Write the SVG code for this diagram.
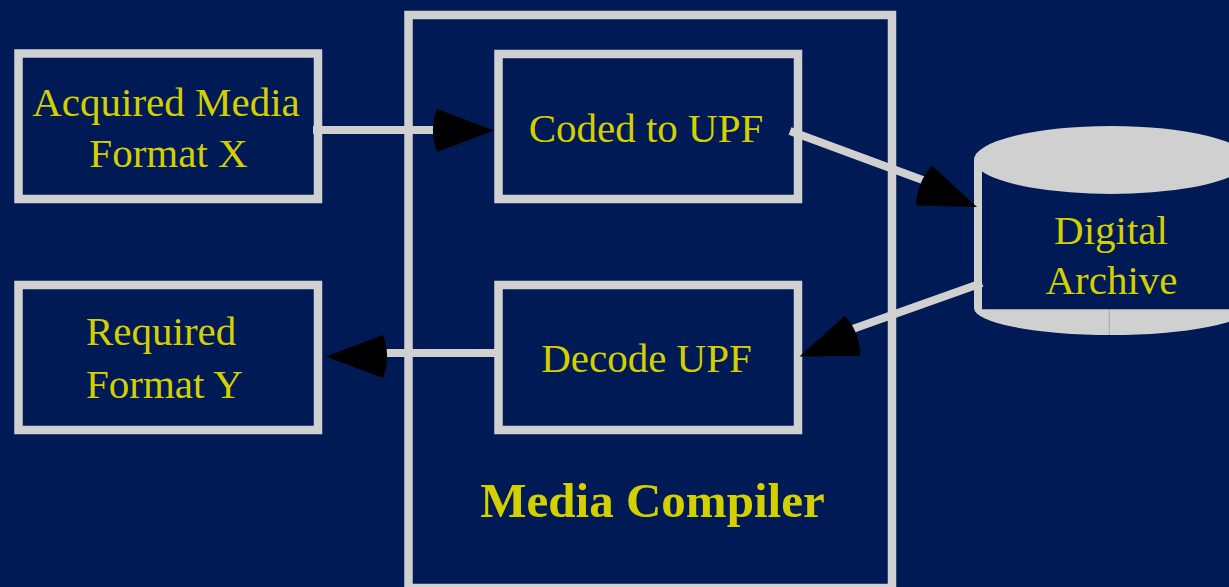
<svg xmlns="http://www.w3.org/2000/svg" xmlns:xlink="http://www.w3.org/1999/xlink" width="1229" height="587" viewBox="0 0 1229 587">
  <style>
    .box { fill: none; stroke: #d0d0d0; stroke-width: 8.5; }
    .lbl { font-family: "Liberation Serif", "Times New Roman", serif; font-size: 41px; fill: #d4d000; }
    .title { font-family: "Liberation Serif", "Times New Roman", serif; font-size: 49px; font-weight: bold; fill: #d4d000; }
    .conn { fill: none; stroke: #d0d0d0; stroke-width: 8; stroke-linecap: butt; }
    .head { fill: #000000; }
  </style>
  <defs>
    <path id="arrowhead" class="head" d="M0,0 L-57.1,-21.4 A61,61 0 0 0 -57.1,21.4 Z"/>
  </defs>
  <rect x="0" y="0" width="1229" height="587" fill="#001a55"/>

  <g id="media-compiler">
    <rect class="box" x="408.5" y="15" width="483.5" height="573"/>
    <text class="title" x="652.5" y="517" text-anchor="middle">Media Compiler</text>
  </g>

  <g id="acquired-media">
    <rect class="box" x="18.5" y="53.5" width="299.5" height="145.5"/>
    <text class="lbl" x="166" y="115.5" text-anchor="middle">Acquired Media</text>
    <text class="lbl" x="168.5" y="167" text-anchor="middle">Format X</text>
  </g>

  <g id="required-format">
    <rect class="box" x="18.5" y="285" width="299.5" height="145"/>
    <text class="lbl" x="86" y="345">Required</text>
    <text class="lbl" x="86" y="397.5">Format Y</text>
  </g>

  <g id="coded-to-upf">
    <rect class="box" x="498.5" y="54" width="299.5" height="145"/>
    <text class="lbl" x="646" y="141.5" text-anchor="middle">Coded to UPF</text>
  </g>

  <g id="decode-upf">
    <rect class="box" x="498.5" y="285" width="299.5" height="145"/>
    <text class="lbl" x="646.5" y="371.5" text-anchor="middle">Decode UPF</text>
  </g>

  <g id="digital-archive">
    <path d="M974,160 A137,34 0 0 1 1248,160 L1248,308 A137,27 0 0 1 974,308 Z" fill="#d0d0d0"/>
    <path d="M982,171.4 A137,34 0 0 0 1240,171.4 L1240,309.3 L982,309.3 Z" fill="#001a55"/>
    <line x1="1109.3" y1="309.3" x2="1109.3" y2="335" stroke="#a0a6b4" stroke-width="1"/>
    <text class="lbl" x="1111" y="243.5" text-anchor="middle">Digital</text>
    <text class="lbl" x="1111.5" y="294" text-anchor="middle">Archive</text>
  </g>

  <g id="connectors">
    <path class="conn" d="M313,130 H441"/>
    <use xlink:href="#arrowhead" transform="translate(494,130.5)"/>
    <path class="conn" d="M502,353 H376"/>
    <use xlink:href="#arrowhead" transform="translate(326,356.5) rotate(180)"/>
    <path class="conn" d="M790,131 L928,182"/>
    <use xlink:href="#arrowhead" transform="translate(977,207) rotate(22)"/>
    <path class="conn" d="M982,283 L847,331"/>
    <use xlink:href="#arrowhead" transform="translate(799.5,356.5) rotate(158.7)"/>
  </g>
</svg>
